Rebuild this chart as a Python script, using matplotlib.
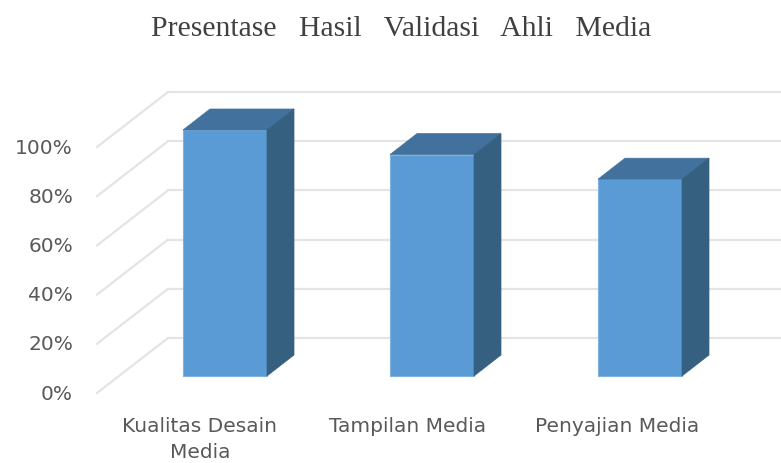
"""
3D-look column chart: Presentase Hasil Validasi Ahli Media.
"""
import matplotlib
matplotlib.use("Agg")
import matplotlib.pyplot as plt
from matplotlib.patches import Polygon

categories = ["Kualitas Desain\nMedia", "Tampilan Media", "Penyajian Media"]
values = [100, 90, 80]
tick_values = [0, 20, 40, 60, 80, 100]

W, H = 781, 463
FRONT = "#5B9BD5"
TOP = "#41719C"
SIDE = "#35607F"
GRID = "#E4E4E4"
TEXT = "#595959"

fig = plt.figure(figsize=(W / 100, H / 100), dpi=100)
ax = fig.add_axes([0, 0, 1, 1])
ax.set_xlim(0, W)
ax.set_ylim(H, 0)
ax.axis("off")

y0 = 376
per_pct = (376 - 130) / 100
dx, dy = 71, 55
x_left = 97


def to_y(v):
    return y0 - v * per_pct


# side wall diagonals, back wall lines, tick labels
for t in tick_values:
    y = to_y(t) + 17
    ax.plot([x_left, x_left + dx], [y, y - dy], color=GRID, lw=1.6, zorder=1)
    ax.plot([x_left + dx, W], [y - dy, y - dy], color=GRID, lw=1.6, zorder=1)
    ax.text(73, y + 1, f"{t}%", ha="right", va="center", fontsize=14.5, color=TEXT)

bar_w = 84
depth_x, depth_y = 27, 21
starts = [183, 390, 598]
for x, v in zip(starts, values):
    top = to_y(v)
    ax.add_patch(Polygon([(x, y0), (x + bar_w, y0), (x + bar_w, top), (x, top)],
                         closed=True, fc=FRONT, ec="#7FB3E0", lw=0.8, zorder=3))
    ax.add_patch(Polygon([(x, top), (x + bar_w, top), (x + bar_w + depth_x, top - depth_y),
                          (x + depth_x, top - depth_y)],
                         closed=True, fc=TOP, ec=TOP, lw=0.5, zorder=3))
    ax.add_patch(Polygon([(x + bar_w, y0), (x + bar_w + depth_x, y0 - depth_y),
                          (x + bar_w + depth_x, top - depth_y), (x + bar_w, top)],
                         closed=True, fc=SIDE, ec=SIDE, lw=0.5, zorder=3))

label_x = [200, 408, 617]
for x, cat in zip(label_x, categories):
    ax.text(x, 417, cat, ha="center", va="top", fontsize=14.5, color=TEXT, linespacing=1.45)

ax.text(401, 29, "Presentase   Hasil   Validasi   Ahli   Media", ha="center", va="center",
        fontsize=21.4, color="#404040", family="Liberation Serif")

fig.savefig("out.png", dpi=100)
